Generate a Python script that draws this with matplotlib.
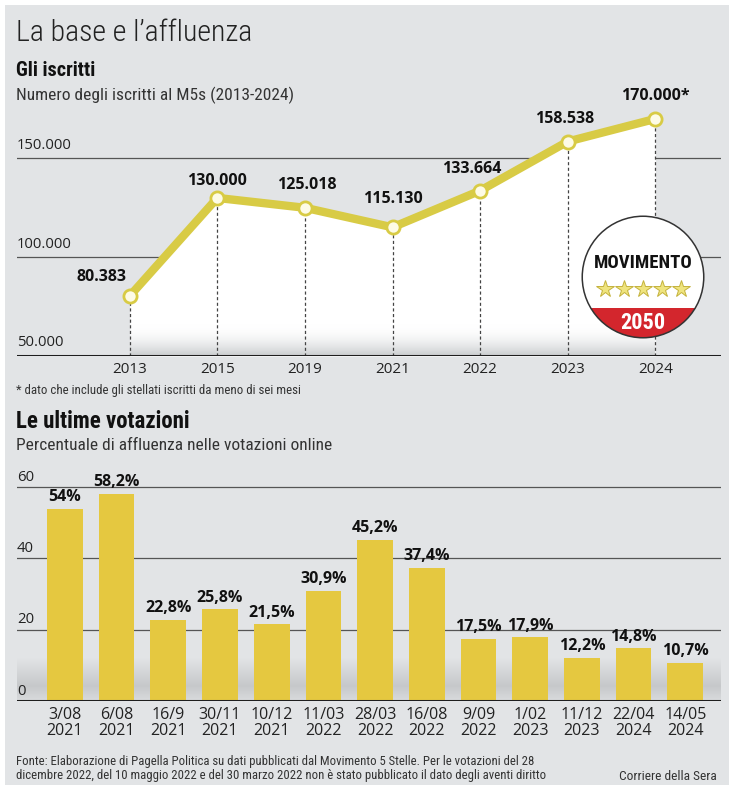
import numpy as np
import matplotlib.pyplot as plt
from matplotlib import font_manager
from matplotlib.patches import Circle, Rectangle
from matplotlib.colors import LinearSegmentedColormap

# Gli iscritti
anni = ["2013", "2015", "2019", "2021", "2022", "2023", "2024"]
iscritti = [80383, 130000, 125018, 115130, 133664, 158538, 170000]
etichette_iscritti = ["80.383", "130.000", "125.018", "115.130", "133.664", "158.538", "170.000*"]
tick_iscritti = [50000, 100000, 150000]
tick_iscritti_lab = ["50.000", "100.000", "150.000"]

# Le ultime votazioni
date_voto = ["3/08\n2021", "6/08\n2021", "16/9\n2021", "30/11\n2021", "10/12\n2021",
             "11/03\n2022", "28/03\n2022", "16/08\n2022", "9/09\n2022", "1/02\n2023",
             "11/12\n2023", "22/04\n2024", "14/05\n2024"]
affluenza = [54, 58.2, 22.8, 25.8, 21.5, 30.9, 45.2, 37.4, 17.5, 17.9, 12.2, 14.8, 10.7]
etichette_aff = ["54%", "58,2%", "22,8%", "25,8%", "21,5%", "30,9%", "45,2%", "37,4%",
                 "17,5%", "17,9%", "12,2%", "14,8%", "10,7%"]
tick_aff = [0, 20, 40, 60]

# narrow font for the texts, a wider one for the numbers
nomi = {f.name for f in font_manager.fontManager.ttflist}
FONT = "DejaVu Sans"
for nome in ["Roboto Condensed", "Liberation Sans Narrow", "Open Sans Condensed", "Roboto"]:
    if nome in nomi:
        FONT = nome
        break
NUM = ["Open Sans", "DejaVu Sans"]
plt.rcParams["font.family"] = [FONT, "DejaVu Sans"]

W, H = 737, 800
BG = "#e2e4e6"
GIALLO = "#d8cb45"
GIALLO_BAR = "#e5c840"
DARK = "#1e1e1e"


def box(l, t, r, b):
    return [l / W, 1 - b / H, (r - l) / W, (b - t) / H]


def ftext(x, y, s, **kw):
    fig.text(x / W, 1 - y / H, s, **kw)


fig = plt.figure(figsize=(W / 100, H / 100), dpi=100)
fig.patch.set_facecolor("white")
fig.patches.append(Rectangle((5 / W, 1 - 785 / H), 724 / W, 780 / H, transform=fig.transFigure,
                             facecolor=BG, edgecolor="none", zorder=-10))

# titles
ftext(16, 33, "La base e l\u2019affluenza", fontsize=21.5, color="#222222", va="center",
      fontweight="light")
ftext(16, 70, "Gli iscritti", fontsize=14.5, fontweight="bold", color="#111111", va="center")
ftext(16, 95, "Numero degli iscritti al M5s (2013-2024)", fontsize=12.5, color="#333333", va="center")

# ---- line chart ----
ax1 = fig.add_axes(box(17, 110, 721, 356))
ax1.set_facecolor("none")
x1 = np.arange(len(anni))

poly = ax1.fill_between(x1, iscritti, 50000, color="white", zorder=1, linewidth=0)
grad = np.linspace(0, 1, 100).reshape(-1, 1)
cm = LinearSegmentedColormap.from_list("g", [(1, 1, 1, 0), (0.78, 0.79, 0.80, 0.95)])
img = ax1.imshow(grad, extent=(-1.3, 6.8, 50000, 66000), origin="upper", cmap=cm,
                 aspect="auto", zorder=1.5, interpolation="bilinear")
img.set_clip_path(poly.get_paths()[0], transform=ax1.transData)
ax1.set_xlim(-1.287, 6.75)
ax1.set_ylim(50000, 174500)

for y in tick_iscritti[1:]:
    ax1.axhline(y, color="#555555", lw=0.9, zorder=0.5)
ax1.axhline(50000, color=DARK, lw=2.2, zorder=4)

for xi, yi in zip(x1, iscritti):
    ax1.plot([xi, xi], [50000, yi], color="#444444", lw=0.9, ls=(0, (2.5, 2)), zorder=2)

ax1.plot(x1, iscritti, color=GIALLO, lw=6, zorder=3, solid_capstyle="round")
ax1.plot(x1, iscritti, "o", ms=9.5, mfc="#fdfbe6", mec=GIALLO, mew=2, zorder=3.5)

offs = [(-28, 19), (0, 17), (2, 23), (0, 28), (-8, 22), (-3, 23), (0, 23)]
for xi, yi, lab, (dx, dy) in zip(x1, iscritti, etichette_iscritti, offs):
    ax1.annotate(lab, (xi, yi), xytext=(dx * 0.72, dy * 0.72), textcoords="offset points",
                 ha="center", va="center", fontsize=11.5, fontweight="bold", family=NUM,
                 color="#111111", zorder=5)

for y, lab in zip(tick_iscritti, tick_iscritti_lab):
    ax1.annotate(lab, (0, y), xycoords=("axes fraction", "data"), xytext=(0, 9.5),
                 textcoords="offset points", fontsize=10.7, family=NUM, color="#222222",
                 va="center", ha="left")

ax1.set_xticks(x1)
ax1.set_xticklabels(anni, fontsize=11, color="#222222", family=NUM)
ax1.tick_params(axis="x", length=0, pad=4)
ax1.set_yticks([])
for s in ax1.spines.values():
    s.set_visible(False)

# logo
axl = fig.add_axes(box(581, 215, 705, 339))
axl.set_xlim(-1, 1)
axl.set_ylim(-1, 1)
axl.set_aspect("equal")
axl.axis("off")
cerchio = Circle((0, 0), 0.98, facecolor="white", edgecolor="none", zorder=1)
axl.add_patch(cerchio)
rosso = Rectangle((-1, -1), 2, 0.5, facecolor="#d3262d", edgecolor="none", zorder=2)
axl.add_patch(rosso)
rosso.set_clip_path(cerchio)
axl.add_patch(Circle((0, 0), 0.98, facecolor="none", edgecolor="#333333", lw=1.1, zorder=3))
axl.text(0, 0.23, "MOVIMENTO", ha="center", va="center", fontsize=13.5, fontweight="bold",
         color="#111111", zorder=4)
axl.plot(np.linspace(-0.62, 0.62, 5), [-0.19] * 5, "*", ms=13, mfc="#efe47e", mec="#c4b23c",
         mew=0.7, zorder=4)
axl.text(0, -0.74, "2050", ha="center", va="center", fontsize=16, fontweight="bold",
         color="white", zorder=4)

ftext(16, 390, "* dato che include gli stellati iscritti da meno di sei mesi", fontsize=9.3,
      color="#333333", va="center")

# ---- bar chart ----
ftext(16, 422, "Le ultime votazioni", fontsize=16.5, fontweight="bold", color="#111111", va="center")
ftext(16, 446, "Percentuale di affluenza nelle votazioni online", fontsize=12.5, color="#333333",
      va="center")

ax2 = fig.add_axes(box(17, 470, 721, 701))
ax2.set_facecolor("none")
x2 = np.arange(len(date_voto))

cm2 = LinearSegmentedColormap.from_list("b", [(0, BG), (0.65, "#c6c8ca"), (1, "#d9dbdd")])
ax2.imshow(np.linspace(0, 1, 100).reshape(-1, 1), extent=(-0.926, 12.69, 0, 12), origin="upper",
           cmap=cm2, aspect="auto", zorder=0, interpolation="bilinear")
ax2.set_xlim(-0.926, 12.69)
ax2.set_ylim(0, 64.8)

for y in tick_aff[1:]:
    ax2.axhline(y, color="#555555", lw=0.9, zorder=0.5)
ax2.axhline(0, color=DARK, lw=2.2, zorder=4)

ax2.bar(x2, affluenza, width=0.69, color=GIALLO_BAR, zorder=2)
for xi, yi, lab in zip(x2, affluenza, etichette_aff):
    ax2.annotate(lab, (xi, yi), xytext=(0, 2.5), textcoords="offset points", ha="center",
                 va="bottom", fontsize=11.5, fontweight="bold", family=NUM, color="#111111",
                 zorder=5)

for y in tick_aff:
    ax2.annotate(str(y), (0, y), xycoords=("axes fraction", "data"), xytext=(0, 7),
                 textcoords="offset points", fontsize=10.7, family=NUM, color="#222222",
                 va="center", ha="left")

ax2.set_xticks(x2)
ax2.set_xticklabels(date_voto, fontsize=11.5, color="#222222", family=NUM, linespacing=1.05)
ax2.tick_params(axis="x", length=0, pad=4)
ax2.set_yticks([])
for s in ax2.spines.values():
    s.set_visible(False)

ftext(16, 762, "Fonte: Elaborazione di Pagella Politica su dati pubblicati dal Movimento 5 Stelle. Per le votazioni del 28",
      fontsize=9.2, color="#333333", va="center")
ftext(16, 776, "dicembre 2022, del 10 maggio 2022 e del 30 marzo 2022 non \u00e8 stato pubblicato il dato degli aventi diritto",
      fontsize=9.2, color="#333333", va="center")
ftext(717, 776, "Corriere della Sera", fontsize=9.6, color="#333333", va="center", ha="right")

fig.savefig("out.png", dpi=100, facecolor=fig.get_facecolor())
